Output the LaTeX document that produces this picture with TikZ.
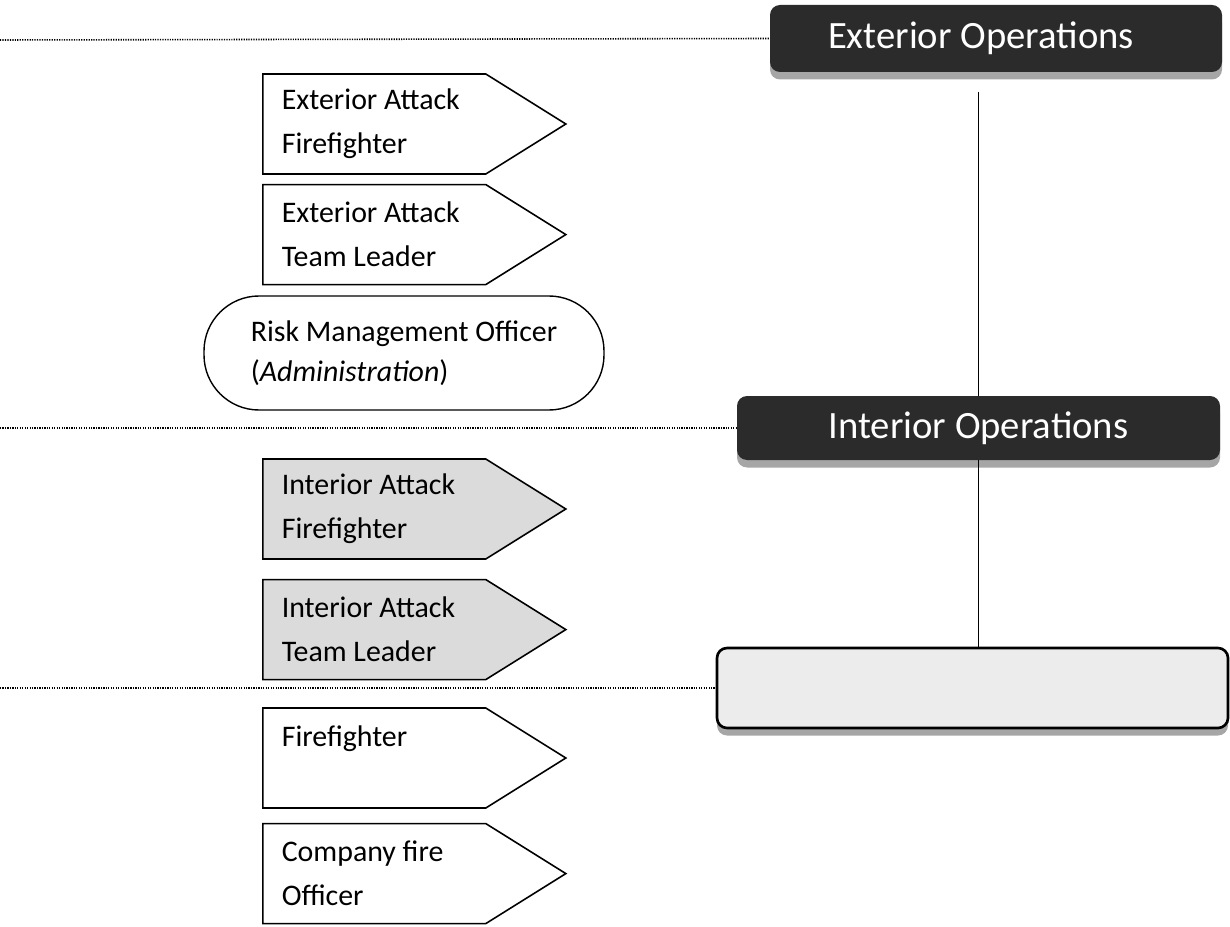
\documentclass[tikz,border=0pt]{standalone}
\usepackage{fontspec}
\setmainfont{Carlito}
\usetikzlibrary{positioning}
\usetikzlibrary{shapes.symbols}
\usetikzlibrary{shadows}
\definecolor{opsdark}{gray}{0.17}

\begin{document}
\begin{tikzpicture}[
    role/.style={signal, signal to=east, signal pointer angle=64, draw, line width=0.9pt, minimum height=2cm, text width=3.7cm, inner xsep=0.38cm, align=flush left, font=\fontsize{17}{25}\selectfont},
    interiorrole/.style={role, fill=gray!28},
    admin/.style={rectangle, draw, line width=0.8pt, rounded corners=1.1cm, minimum width=8cm, minimum height=2.28cm, align=left, font=\fontsize{17}{23}\selectfont},
    ops/.style={rectangle, rounded corners=0.2cm, fill=opsdark, text=white, font=\fontsize{22}{26}\selectfont, drop shadow={shadow xshift=0cm, shadow yshift=-0.15cm, fill=gray!70, opacity=1}},
    level/.style={line width=0.9pt, dash pattern=on 0.7pt off 0.7pt},
    link/.style={line width=1pt}
]
\useasboundingbox (0,0) rectangle (24.6,-18.54);

% Operations
\node[ops, minimum width=9.04cm, minimum height=1.34cm] (exterior) at (19.92,-0.77) {\hspace*{-0.6cm}Exterior Operations};
\node[ops, minimum width=9.66cm, minimum height=1.28cm] (interior) at (19.57,-8.56) {Interior Operations};
\node[ops, fill=gray!15, draw, line width=1.5pt, minimum width=10.22cm, minimum height=1.6cm] (basic) at (19.45,-13.76) {};

% Roles
\node[role, anchor=west] (extff) at (5.24,-2.48) {Exterior Attack\\Firefighter};
\node[role, below=0.18cm of extff] (extlead) {Exterior Attack\\Team Leader};
\node[admin] (risk) at (8.08,-7.06) {Risk Management Officer\\(\textit{Administration})};
\node[interiorrole, anchor=west] (intff) at (5.24,-10.18) {Interior Attack\\Firefighter};
\node[interiorrole, below=0.38cm of intff] (intlead) {Interior Attack\\Team Leader};
\node[role, anchor=west] (ff) at (5.24,-15.16) {Firefighter\\\mbox{}};
\node[role, below=0.28cm of ff] (officer) {Company fire\\Officer};

% Levels
\coordinate (edgeA) at (0,-0.8);
\coordinate (edgeB) at (0,-8.56);
\coordinate (edgeC) at (0,-13.76);
\draw[level] (edgeA) -- (exterior.west);
\draw[level] (edgeB) -- (interior.west);
\draw[level] (edgeC) -- (basic.west);

% Links
\draw[link, shorten <=0.4cm] (interior.north |- exterior.south) -- (interior.north);
\draw[link] (interior.south) -- (interior.south |- basic.north);

\end{tikzpicture}
\end{document}
